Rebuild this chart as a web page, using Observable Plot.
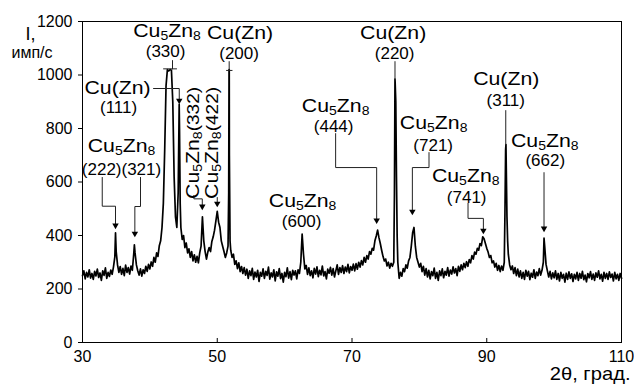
<!DOCTYPE html>
<html><head><meta charset="utf-8">
<script src="https://cdn.jsdelivr.net/npm/d3@7"></script>
<script src="https://cdn.jsdelivr.net/npm/@observablehq/plot@0.6"></script>
<style>
html,body{margin:0;padding:0;background:#fff;}
</style>
</head><body><div id="chart"></div>
<script>
// Measured XRD pattern, fixed step scan
const startAngle = 30, stepAngle = 0.2;
const intensity = [
 250,268,238,262,245, 272,241,258,236,266, 249,274,243,260,232, 268,251,279,240,262,
 247,271,255,283,320, 340,290,262,284,255, 277,250,289,262,280, 256,286,270,330,335,
 290,268,252,275,248, 272,258,285,266,292, 275,301,285,318,300, 335,322,362,380,430,
 520,720,960,1020,1015, 1020,1018,900,620,470, 430,560,800,430,385, 400,355,372,335,350,
 318,340,305,328,300, 322,298,335,360,470, 380,340,312,338,355, 340,378,395,420,455,
 490,450,430,380,360, 340,318,335,360,700, 345,318,330,292,305, 276,298,265,284,258,
 280,252,274,240,268, 250,277,236,263,245, 270,228,262,248,275, 240,266,251,282,237,
 260,245,272,230,264, 248,276,239,258,226, 262,246,279,241,265, 235,270,252,268,238,
 272,258,300,405,330, 275,288,255,279,250, 268,242,277,256,283, 246,270,253,286,249,
 265,238,274,259,281, 252,276,245,268,290, 255,280,262,287,258, 282,265,292,260,284,
 270,293,268,295,274, 300,282,306,290,318, 300,325,312,340,330, 352,345,380,398,420,
 392,370,345,322,305, 312,286,300,278,296, 285,300,975,620,300, 240,262,248,276,265,
 290,278,305,318,360, 410,430,360,318,300, 282,296,265,285,252, 276,245,270,238,265,
 250,278,240,262,232, 268,250,275,242,266, 252,280,248,271,256, 283,260,276,250,285,
 266,290,272,296,280, 302,285,310,298,325, 312,338,330,352,345, 370,362,395,388,370,
 352,338,318,325,298, 305,282,296,270,288, 265,286,270,300,720, 470,330,290,272,286,
 258,280,250,274,245, 268,240,262,236,270, 248,266,235,259,244, 272,240,263,250,276,
 252,270,300,360,292, 268,245,266,238,260, 242,268,236,258,230, 262,240,255,226,259,
 236,264,240,257,228, 255,238,262,232,258, 240,266,235,252,227, 258,242,265,236,256,
 232,260,244,268,238, 255,229,262,240,258, 236,264,243,256,230, 262,238,255,232,258,
 240
];
// extra points read at the narrow peak tops
const sharpAngles    = [34.9, 37.7, 44.35, 44.5, 51.7, 51.75, 51.78, 51.9, 76.3, 76.38, 76.5, 76.7, 92.7, 92.85, 92.95, 93.1, 98.5];
const sharpIntensity = [410,  365,  890,   520,  560,  1020,  1020,  380,  560,  985,   900,  400,  480,  740,   560,   380,  390];

const xTicks = [30, 50, 70, 90, 110];
const yTicks = [0, 200, 400, 600, 800, 1000, 1200];

const phaseLabels = [
 {text: "Cu5Zn8", x: 35.79, y: 736},
 {text: "Cu(Zn)", x: 35.2,  y: 953},
 {text: "Cu5Zn8", x: 42.55, y: 1163},
 {text: "Cu(Zn)", x: 53.39, y: 1157},
 {text: "Cu5Zn8", x: 62.67, y: 531},
 {text: "Cu5Zn8", x: 67.57, y: 886},
 {text: "Cu(Zn)", x: 76.11, y: 1157},
 {text: "Cu5Zn8", x: 82.12, y: 822},
 {text: "Cu5Zn8", x: 86.88, y: 622},
 {text: "Cu(Zn)", x: 92.89, y: 987},
 {text: "Cu5Zn8", x: 98.61, y: 755}
];
const millerLabels = [
 {text: "(222)(321)", x: 35.79, y: 645},
 {text: "(111)", x: 35.35, y: 877},
 {text: "(330)", x: 42.33, y: 1086},
 {text: "(200)", x: 53.24, y: 1081},
 {text: "(600)", x: 62.52, y: 454},
 {text: "(444)", x: 67.27, y: 808},
 {text: "(220)", x: 76.33, y: 1079},
 {text: "(721)", x: 82.05, y: 737},
 {text: "(741)", x: 87.02, y: 543},
 {text: "(311)", x: 92.82, y: 905},
 {text: "(662)", x: 98.69, y: 679}
];
const rotatedLabels = [
 {text: "Cu5Zn8(332)", x: 46.33, y: 746},
 {text: "Cu5Zn8(422)", x: 49.16, y: 746}
];
const leaders = [
 {id: "222", pts: [[32.93, 617], [32.93, 509.5], [34.9, 509.5], [34.9, 432]]},
 {id: "321", pts: [[38.61, 617], [38.61, 508.4], [37.77, 508.4], [37.77, 402]]},
 {id: "111", pts: [[40.54, 949.5], [44.36, 949.5], [44.36, 899]]},
 {id: "330a", pts: [[42.03, 1023], [43.96, 1023]]},
 {id: "330b", pts: [[43.36, 1054], [43.36, 1023]]},
 {id: "200", pts: [[51.77, 1050], [51.77, 1017]]},
 {id: "200b", pts: [[51.38, 1017], [52.2, 1017]]},
 {id: "332", pts: [[46.53, 549.5], [46.53, 537], [47.78, 537], [47.78, 503]]},
 {id: "422", pts: [[50.0, 542], [50.0, 514]]},
 {id: "444", pts: [[67.57, 781], [67.57, 654], [73.66, 654], [73.66, 451]]},
 {id: "220", pts: [[76.38, 1050], [76.38, 985]]},
 {id: "721", pts: [[81.43, 710], [81.43, 654], [78.96, 654], [78.96, 485]]},
 {id: "741", pts: [[87.22, 520], [87.22, 464], [89.5, 464], [89.5, 413]]},
 {id: "311", pts: [[92.82, 867], [92.82, 740]]},
 {id: "662", pts: [[98.5, 635], [98.5, 421]]}
];
const arrowTips = [[34.9, 430], [37.77, 400], [44.36, 897], [47.78, 501], [50.0, 512], [73.66, 449], [78.96, 482], [89.5, 411], [98.5, 419]];

// build tables
const points = intensity.map((v, k) => ({a: +(startAngle + k * stepAngle).toFixed(2), i: v}))
  .concat(sharpAngles.map((a, k) => ({a, i: sharpIntensity[k]})))
  .sort((p, q) => p.a - q.a);
const leaderRows = leaders.flatMap(l => l.pts.map(p => ({id: l.id, x: p[0], y: p[1]})));

const FONT = "'Liberation Sans', Arial, Helvetica, sans-serif";
const svg = Plot.plot({
  width: 634, height: 385,
  marginLeft: 82, marginRight: 13, marginTop: 21, marginBottom: 43,
  style: {fontFamily: FONT, fontSize: "16px", background: "white", color: "black"},
  x: {domain: [30, 110]},
  y: {domain: [0, 1200]},
  marks: [
    Plot.axisY({ticks: yTicks, tickSize: 4, tickPadding: 6, fontSize: 16, label: null, tickFormat: d => String(d)}),
    Plot.axisX({ticks: xTicks, tickSize: 0, tickPadding: 8, fontSize: 16, label: null, tickFormat: d => String(d)}),
    Plot.ruleX(xTicks, {y1: 0, y2: 15, stroke: "black"}),
    Plot.line(points, {x: "a", y: "i", stroke: "black", strokeWidth: 1.7}),
    Plot.line(leaderRows, {x: "x", y: "y", z: "id", stroke: "#222", strokeWidth: 1}),
    Plot.dot(arrowTips, {x: d => d[0], y: d => d[1], symbol: "triangle", r: 2.4, fill: "black", stroke: null, rotate: 180, dy: -2}),
    Plot.frame({stroke: "black", strokeWidth: 1}),
    Plot.text(phaseLabels, {x: "x", y: "y", text: "text", fontSize: 19}),
    Plot.text(millerLabels, {x: "x", y: "y", text: "text", fontSize: 17}),
    Plot.text(rotatedLabels, {x: "x", y: "y", text: "text", fontSize: 19, rotate: -90}),
    Plot.text(["I,"], {frameAnchor: "top-left", dx: -57, dy: 6, textAnchor: "start", fontSize: 18}),
    Plot.text(["имп/с"], {frameAnchor: "top-left", dx: -71, dy: 25, textAnchor: "start", fontSize: 16}),
    Plot.text(["2θ, град."], {frameAnchor: "bottom-right", dx: 9, dy: 37, textAnchor: "end", fontSize: 18})
  ]
});
document.getElementById("chart").appendChild(svg);

const NS = "http://www.w3.org/2000/svg";
function formula(t) {
  const s = t.textContent;
  const rest = s.slice(6);
  while (t.firstChild) t.removeChild(t.firstChild);
  const add = (txt, size, dy) => {
    const ts = document.createElementNS(NS, "tspan");
    ts.textContent = txt;
    if (size) ts.setAttribute("font-size", size);
    if (dy) ts.setAttribute("dy", dy);
    t.appendChild(ts);
  };
  add("Cu");
  add("5", 12.5, 3);
  add("Zn", null, -3);
  add("8", 12.5, 3);
  if (rest) add(rest, 17, -3);
}
function stretch(t, sx) {
  const tr = t.getAttribute("transform");
  if (tr) t.setAttribute("transform", tr + ` scale(${sx},1)`);
  else {
    const x = t.getAttribute("x") || 0, y = t.getAttribute("y") || 0;
    t.removeAttribute("x"); t.removeAttribute("y");
    t.setAttribute("transform", `translate(${x},${y}) scale(${sx},1)`);
  }
}
svg.querySelectorAll("text").forEach(t => {
  const s = t.textContent;
  if (s.startsWith("Cu5Zn8")) { formula(t); stretch(t, 1.12); }
  else if (s === "Cu(Zn)" || s.startsWith("2θ")) stretch(t, 1.12);
});
</script>
</body></html>
